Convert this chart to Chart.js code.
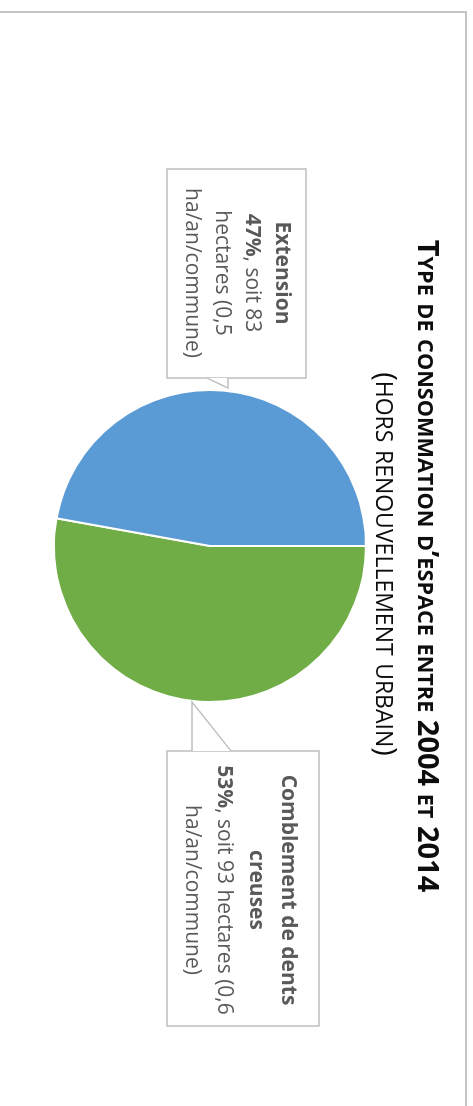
<!DOCTYPE html>
<html>
<head>
<meta charset="utf-8">
<script src="https://cdn.jsdelivr.net/npm/chart.js@4.4.1/dist/chart.umd.min.js"></script>
<style>
  html, body { margin: 0; padding: 0; background: #fff; overflow: hidden; }
  #wrap {
    position: absolute; left: 0; top: 0;
    width: 1106px; height: 473px;
    transform-origin: 0 0;
    transform: translate(473px, 0) rotate(90deg);
  }
</style>
</head>
<body>
<div id="wrap"><canvas id="pie" width="1106" height="473"></canvas></div>
<script>
// data (Excel export, chart is turned a quarter clockwise on the page)
const labels = ["Comblement de dents creuses", "Extension"];
const hectares = [93, 83];
const percents = ["53%", "47%"];
const haPerCommune = ["0,6", "0,5"];
const colors = ["#70AD47", "#5B9BD5"];

const titleText = "Type de consommation d’espace entre 2004 et 2014";
const subtitleText = "(hors renouvellement urbain)";

const FONT = "'Open Sans', sans-serif";
const BOLD_SIZE = 21;
const TEXT_SIZE = 21;

function drawSmallCaps(ctx, text, cx, y, big, small, weight) {
  const runs = [];
  for (const ch of text) {
    const lower = ch !== ch.toUpperCase();
    runs.push({ t: lower ? ch.toUpperCase() : ch, size: lower ? small : big });
  }
  let total = 0;
  runs.forEach(r => {
    ctx.font = weight + " " + r.size + "px " + FONT;
    r.w = ctx.measureText(r.t).width;
    total += r.w;
  });
  let x = cx - total / 2;
  ctx.textAlign = "left";
  ctx.textBaseline = "alphabetic";
  runs.forEach(r => {
    ctx.font = weight + " " + r.size + "px " + FONT;
    ctx.fillText(r.t, x, y);
    x += r.w;
  });
}

function fontFor(bold) {
  return bold ? "700 " + BOLD_SIZE + "px " + FONT : "400 " + TEXT_SIZE + "px " + FONT;
}

// wrap words of several segments into lines
function wrapSegments(ctx, segs, maxW) {
  const words = [];
  segs.forEach(s => {
    s.text.split(" ").forEach(w => {
      if (w !== "") words.push({ text: w, bold: s.bold });
    });
  });
  ctx.font = fontFor(false);
  const spaceW = ctx.measureText(" ").width;
  const lines = [];
  let cur = [], curW = 0;
  words.forEach(w => {
    ctx.font = fontFor(w.bold);
    const ww = ctx.measureText(w.text).width;
    const add = cur.length ? spaceW + ww : ww;
    if (cur.length && curW + add > maxW) {
      lines.push(cur);
      cur = [w]; curW = ww;
    } else {
      cur.push(w); curW += add;
    }
  });
  if (cur.length) lines.push(cur);
  return lines;
}

function drawLines(ctx, lines, cx, y0, lh, color) {
  ctx.fillStyle = color;
  ctx.textAlign = "left";
  ctx.textBaseline = "alphabetic";
  lines.forEach((line, li) => {
    const parts = [];
    let total = 0;
    line.forEach((w, i) => {
      let txt = i > 0 ? " " + w.text : w.text;
      let boldPart = "", normPart = txt;
      if (w.bold && txt.endsWith(",")) { boldPart = txt.slice(0, -1); normPart = ","; }
      else if (w.bold) { boldPart = txt; normPart = ""; }
      if (boldPart) {
        ctx.font = fontFor(true);
        const bw = ctx.measureText(boldPart).width;
        parts.push({ t: boldPart, f: ctx.font, w: bw }); total += bw;
      }
      if (normPart) {
        ctx.font = fontFor(false);
        const nw = ctx.measureText(normPart).width;
        parts.push({ t: normPart, f: ctx.font, w: nw }); total += nw;
      }
    });
    let x = cx - total / 2;
    parts.forEach(p => { ctx.font = p.f; ctx.fillText(p.t, x, y0 + li * lh); x += p.w; });
  });
}

const decorPlugin = {
  id: "decor",
  afterDraw(chart) {
    const ctx = chart.ctx;
    const arc = chart.getDatasetMeta(0).data[0];
    const cx = arc.x, cy = arc.y, r = arc.outerRadius;
    ctx.save();

    // outer chart frame
    ctx.strokeStyle = "#C4C4C4";
    ctx.lineWidth = 2;
    ctx.strokeRect(12, 7, 1200, 600);

    // title
    ctx.fillStyle = "#0d0d0d";
    drawSmallCaps(ctx, titleText, cx + 20, 55, 29, 21.7, "700");
    drawSmallCaps(ctx, subtitleText, cx + 18, 97, 29, 23, "400");

    // callouts
    const callouts = [
      { // Comblement (index 0), right of the pie
        box: [cx + r + 49, cy - 109, cx + r + 324, cy + 43],
        ptr: [[cx + r + 49, cy - 21], [cx + r, cy + 18], [cx + r + 49, cy + 18]],
        tx: cx + r + 188, ty: cy - 72, lh: 32, maxW: 262
      },
      { // Extension (index 1), left of the pie
        box: [cx - r - 221, cy - 96, cx - r - 12, cy + 43],
        ptr: [[cx - r - 12, cy + 3], [cx - r - 2, cy - 18], [cx - r - 12, cy - 18]],
        tx: cx - r - 117, ty: cy - 66, lh: 30, maxW: 195
      }
    ];
    callouts.forEach((c, i) => {
      const [x0, y0, x1, y1] = c.box;
      ctx.beginPath();
      ctx.rect(x0, y0, x1 - x0, y1 - y0);
      ctx.fillStyle = "#fff";
      ctx.fill();
      ctx.strokeStyle = "#BFBFBF";
      ctx.lineWidth = 1.5;
      ctx.stroke();
      // pointer
      ctx.beginPath();
      ctx.moveTo(c.ptr[0][0], c.ptr[0][1]);
      ctx.lineTo(c.ptr[1][0], c.ptr[1][1]);
      ctx.lineTo(c.ptr[2][0], c.ptr[2][1]);
      ctx.closePath();
      ctx.fill();
      ctx.beginPath();
      ctx.moveTo(c.ptr[0][0], c.ptr[0][1]);
      ctx.lineTo(c.ptr[1][0], c.ptr[1][1]);
      ctx.lineTo(c.ptr[2][0], c.ptr[2][1]);
      ctx.stroke();

      const head = wrapSegments(ctx, [{ text: labels[i], bold: true }], c.maxW);
      const body = wrapSegments(ctx, [
        { text: percents[i] + ",", bold: true },
        { text: "soit " + hectares[i] + " hectares (" + haPerCommune[i] + " ha/an/commune)", bold: false }
      ], c.maxW);
      drawLines(ctx, head.concat(body), c.tx, c.ty, c.lh, "#595959");
    });
    ctx.restore();
  }
};

new Chart(document.getElementById("pie"), {
  type: "pie",
  data: {
    labels: labels,
    datasets: [{
      data: hectares,
      backgroundColor: colors,
      borderColor: "#ffffff",
      borderWidth: 2
    }]
  },
  options: {
    responsive: false,
    animation: false,
    layout: { padding: { left: 0, right: 14, top: 106, bottom: 53 } },
    plugins: {
      legend: { display: false },
      title: { display: false },
      tooltip: { enabled: false }
    }
  },
  plugins: [decorPlugin]
});
</script>
</body>
</html>
